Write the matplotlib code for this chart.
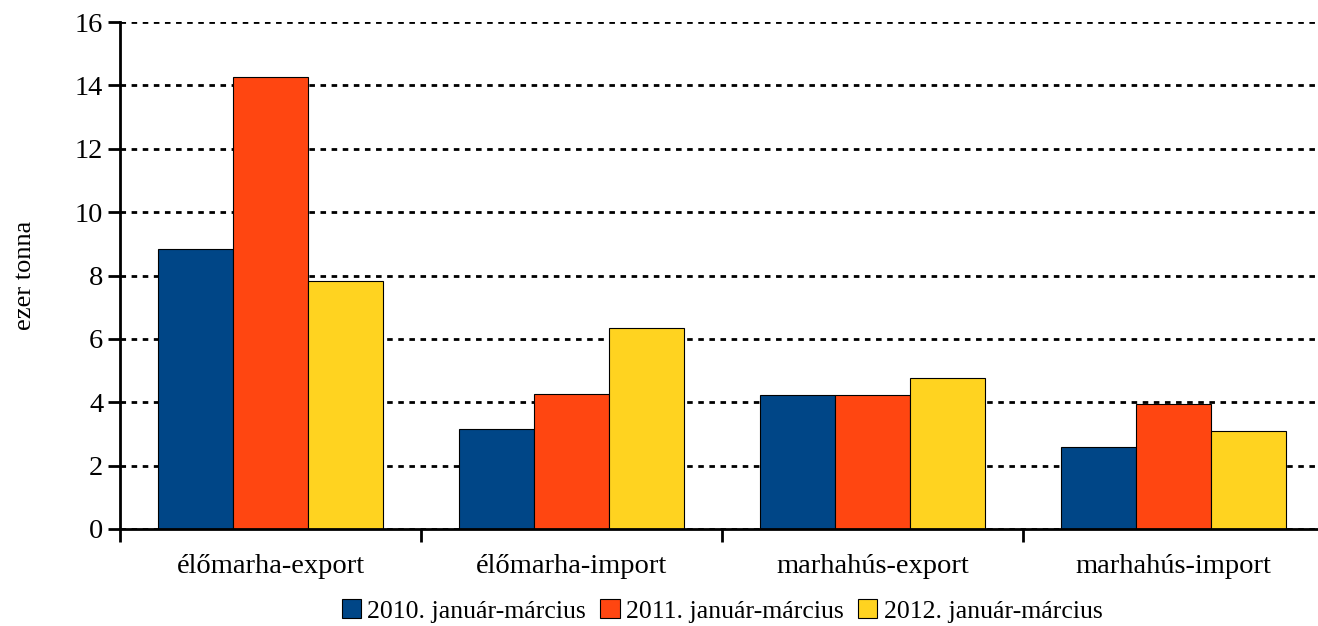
import numpy as np
import matplotlib.pyplot as plt
from matplotlib.patches import Patch

plt.rcParams['font.family'] = ['Liberation Serif', 'DejaVu Serif']

# Adatok
categories = ["élőmarha-export", "élőmarha-import", "marhahús-export", "marhahús-import"]
series_names = ["2010. január-március", "2011. január-március", "2012. január-március"]
values_2010 = [8.83, 3.16, 4.24, 2.58]
values_2011 = [14.26, 4.26, 4.22, 3.93]
values_2012 = [7.84, 6.34, 4.76, 3.09]
colors = ["#004687", "#FF4611", "#FFD320"]

fig = plt.figure(figsize=(13.18, 6.26), dpi=100)
ax = fig.add_axes([120 / 1318, 97 / 626, 1204 / 1318, 507 / 626])

x = np.arange(len(categories))
width = 0.25
for i, (vals, name, col) in enumerate(zip([values_2010, values_2011, values_2012], series_names, colors)):
    ax.bar(x + (i - 1) * width, vals, width, color=col, edgecolor="black", linewidth=0.8,
           label=name, zorder=3)

ax.set_xlim(-0.5, len(categories) - 0.5)
ax.set_ylim(0, 16)
ax.set_yticks(range(0, 17, 2))
# fő osztások a csoportok határán, feliratok középen
ax.set_xticks(np.arange(-0.5, len(categories), 1.0))
ax.set_xticklabels([])
ax.set_xticks(x, minor=True)
ax.set_xticklabels(categories, minor=True)
ax.tick_params(axis="x", which="minor", length=0, pad=18, labelsize=20.5)
ax.tick_params(axis="x", which="major", direction="out", length=9, width=2)
ax.tick_params(axis="y", direction="out", length=9, width=2, labelsize=20.5, pad=3)

ax.yaxis.grid(True, color="black", linestyle=(0, (2, 2)), linewidth=2, zorder=0)
ax.set_axisbelow(True)
for s in ["top", "right"]:
    ax.spines[s].set_visible(False)
for s in ["left", "bottom"]:
    ax.spines[s].set_linewidth(2)
    ax.spines[s].set_zorder(4)

ax.set_ylabel("ezer tonna", fontsize=19, labelpad=28)

handles = [Patch(facecolor=c, edgecolor="black", linewidth=0.8) for c in colors]
ax.legend(handles, series_names, loc="center", bbox_to_anchor=(0.5, -0.162), ncol=3,
          frameon=False, fontsize=18.5, handlelength=0.75, handleheight=0.75,
          handletextpad=0.25, columnspacing=0.55)

fig.savefig("out.png", dpi=100)
